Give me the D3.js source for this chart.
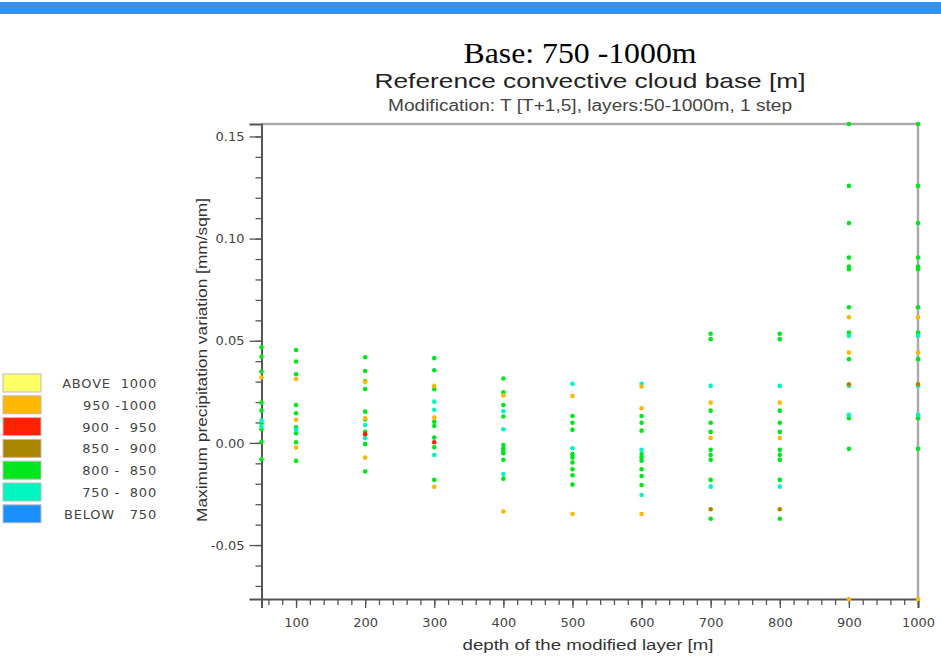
<!DOCTYPE html>
<html lang="en">
<head>
<meta charset="UTF-8">
<title>Base 750-1000m</title>
<script src="https://d3js.org/d3.v7.min.js"></script>
<style>
    body { margin: 0; background: #fff; }
    text { fill: #333; }
    .sans { font-family: "Liberation Sans", Arial, sans-serif; }
    .tick text { font-family: "DejaVu Sans", sans-serif; font-size: 13px; fill: #444; }
    .legend text { font-family: "DejaVu Sans", sans-serif; font-size: 13px; fill: #444; white-space: pre; letter-spacing: 0.8px; }
</style>
</head>
<body>
<script>
// depths of the modified layer (x) and tick labels
var xMajorTicks = [100, 200, 300, 400, 500, 600, 700, 800, 900, 1000];
var yMajorTicks = [-0.05, 0.00, 0.05, 0.10, 0.15];

// legend classes (cloud base height, m)
var classLabels = ["ABOVE  1000", "950 -1000", "900 -  950", "850 -  900", "800 -  850", "750 -  800", "BELOW   750"];
var classColors = ["#ffff66", "#ffb700", "#ff2200", "#a88600", "#00e61e", "#00f5c0", "#1a90ff"];

// points per class: [depth, max precipitation variation]
var pts800_850 = [
    [50, 0.0468], [50, 0.0422], [50, 0.0349], [50, 0.0197], [50, 0.0158], [50, 0.0096], [50, 0.0067], [50, 0.0006], [50, -0.0080],
    [100, 0.0455], [100, 0.0398], [100, 0.0336], [100, 0.0185], [100, 0.0145], [100, 0.0077], [100, 0.0047], [100, 0.0003], [100, -0.0088],
    [200, 0.0419], [200, 0.0352], [200, 0.0303], [200, 0.0264], [200, 0.0153], [200, 0.0115], [200, 0.0055], [200, -0.0006], [200, -0.0140],
    [300, 0.0415], [300, 0.0356], [300, 0.0263], [300, 0.0104], [300, 0.0083], [300, 0.0026], [300, -0.0021], [300, -0.0181],
    [400, 0.0315], [400, 0.0248], [400, 0.0185], [400, 0.0129], [400, -0.0010], [400, -0.0026], [400, -0.0038], [400, -0.0050], [400, -0.0083], [400, -0.0175],
    [500, 0.0132], [500, 0.0099], [500, 0.0064], [500, -0.0055], [500, -0.0072], [500, -0.0096], [500, -0.0129], [500, -0.0158], [500, -0.0204],
    [600, 0.0132], [600, 0.0099], [600, 0.0060], [600, -0.0054], [600, -0.0070], [600, -0.0087], [600, -0.0129], [600, -0.0162], [600, -0.0206],
    [700, 0.0534], [700, 0.0508], [700, 0.0158], [700, 0.0099], [700, 0.0054], [700, -0.0034], [700, -0.0059], [700, -0.0083], [700, -0.0181], [700, -0.0371],
    [800, 0.0534], [800, 0.0508], [800, 0.0158], [800, 0.0099], [800, 0.0054], [800, -0.0034], [800, -0.0059], [800, -0.0083], [800, -0.0181], [800, -0.0371],
    [900, 0.1561], [900, 0.1258], [900, 0.1076], [900, 0.0907], [900, 0.0863], [900, 0.0850], [900, 0.0664], [900, 0.0540], [900, 0.0410], [900, 0.0121], [900, -0.0029],
    [1000, 0.1561], [1000, 0.1258], [1000, 0.1076], [1000, 0.0907], [1000, 0.0863], [1000, 0.0850], [1000, 0.0664], [1000, 0.0540], [1000, 0.0410], [1000, 0.0121], [1000, -0.0029]
];
var pts750_800 = [
    [50, 0.0109], [50, 0.0080],
    [100, 0.0064],
    [200, 0.0088], [200, 0.0023],
    [300, 0.0202], [300, 0.0162], [300, -0.0059],
    [400, 0.0155], [400, 0.0067], [400, -0.0152],
    [500, 0.0289], [500, -0.0026],
    [600, 0.0289], [600, -0.0034], [600, -0.0255],
    [700, 0.0279], [700, -0.0214],
    [800, 0.0279], [800, -0.0214],
    [900, 0.0524], [900, 0.0279], [900, 0.0137],
    [1000, 0.0524], [1000, 0.0279], [1000, 0.0137]
];
var pts950_1000 = [
    [50, 0.0320],
    [100, 0.0313], [100, 0.0113], [100, -0.0023],
    [200, 0.0299], [200, 0.0121], [200, -0.0072],
    [300, 0.0279], [300, 0.0124], [300, -0.0215],
    [400, 0.0232], [400, -0.0336],
    [500, 0.0230], [500, -0.0348],
    [600, 0.0276], [600, 0.0170], [600, -0.0348],
    [700, 0.0197], [700, 0.0024],
    [800, 0.0197], [800, 0.0024],
    [900, 0.0615], [900, 0.0442], [900, -0.0764],
    [1000, 0.0615], [1000, 0.0442], [1000, -0.0764]
];
var pts850_900 = [
    [700, -0.0325], [800, -0.0325], [900, 0.0287], [1000, 0.0287]
];
var pts900_950 = [
    [200, 0.0043], [300, 0.0003]
];

var width = 941, height = 656;
var svg = d3.select("body").append("svg")
    .attr("width", width)
    .attr("height", height);

// blue band at the top
svg.append("rect").attr("x", 0).attr("y", 2).attr("width", width).attr("height", 12).attr("fill", "#3391ef");

// titles
svg.append("text")
    .attr("x", 580).attr("y", 63)
    .attr("text-anchor", "middle")
    .attr("textLength", 233).attr("lengthAdjust", "spacingAndGlyphs")
    .style("font-family", "'Liberation Serif', 'Times New Roman', serif")
    .style("font-size", "29px").style("fill", "#000")
    .text("Base: 750 -1000m");
svg.append("text").attr("class", "sans")
    .attr("x", 590).attr("y", 88)
    .attr("text-anchor", "middle")
    .attr("textLength", 431).attr("lengthAdjust", "spacingAndGlyphs")
    .style("font-size", "21px").style("fill", "#222")
    .text("Reference convective cloud base [m]");
svg.append("text").attr("class", "sans")
    .attr("x", 590).attr("y", 111)
    .attr("text-anchor", "middle")
    .attr("textLength", 404).attr("lengthAdjust", "spacingAndGlyphs")
    .style("font-size", "16px").style("fill", "#444")
    .text("Modification: T [T+1,5], layers:50-1000m, 1 step");

// scales
var x = d3.scaleLinear().domain([50, 1000]).range([261.5, 918]);
var y = d3.scaleLinear().domain([-0.0764, 0.1561]).range([599, 124]);

// frame (top and right)
var frame = svg.append("g").attr("stroke", "#aaa").attr("stroke-width", 2.5);
frame.append("line").attr("x1", x(50)).attr("x2", x(1000)).attr("y1", y(0.1561)).attr("y2", y(0.1561));
frame.append("line").attr("x1", x(1000)).attr("x2", x(1000)).attr("y1", y(0.1561)).attr("y2", y(-0.0764));

// y axis: minor then major
var yMinor = d3.range(-7, 16).map(function (d) { return d / 100; });
svg.append("g").attr("transform", "translate(" + x(50) + ",0)")
    .call(d3.axisLeft(y).tickValues(yMinor).tickSize(6).tickFormat(""))
    .call(function (g) { g.select(".domain").remove(); });
var yAxis = svg.append("g").attr("transform", "translate(" + x(50) + ",0)")
    .call(d3.axisLeft(y).tickValues(yMajorTicks).tickSize(12).tickPadding(5)
        .tickFormat(function (d) { return d.toFixed(2); }));

// x axis: minor then major
var xMinor = d3.range(60, 1001, 20);
svg.append("g").attr("transform", "translate(0," + y(-0.0764) + ")")
    .call(d3.axisBottom(x).tickValues(xMinor).tickSize(6).tickFormat(""))
    .call(function (g) { g.select(".domain").remove(); });
var xAxis = svg.append("g").attr("transform", "translate(0," + y(-0.0764) + ")")
    .call(d3.axisBottom(x).tickValues(xMajorTicks).tickSize(9).tickPadding(10)
        .tickFormat(function (d) { return String(d); }));

svg.selectAll(".tick line").attr("stroke", "#555").attr("stroke-width", 1.3);
svg.selectAll(".domain").attr("stroke", "#555").attr("stroke-width", 2);

// axis titles
svg.append("text").attr("class", "sans")
    .attr("transform", "translate(207,360) rotate(-90)")
    .attr("text-anchor", "middle")
    .attr("textLength", 324).attr("lengthAdjust", "spacingAndGlyphs")
    .style("font-size", "14px")
    .text("Maximum precipitation variation [mm/sqm]");
svg.append("text").attr("class", "sans")
    .attr("x", 588).attr("y", 650)
    .attr("text-anchor", "middle")
    .attr("textLength", 251).attr("lengthAdjust", "spacingAndGlyphs")
    .style("font-size", "14px")
    .text("depth of the modified layer [m]");

// points
var layers = [
    { data: pts800_850, color: classColors[4] },
    { data: pts750_800, color: classColors[5] },
    { data: pts950_1000, color: classColors[1] },
    { data: pts850_900, color: classColors[3] },
    { data: pts900_950, color: classColors[2] }
];
layers.forEach(function (layer) {
    svg.append("g").selectAll("circle")
        .data(layer.data)
        .enter().append("circle")
        .attr("cx", function (d) { return x(d[0]); })
        .attr("cy", function (d) { return y(d[1]); })
        .attr("r", 2.3)
        .attr("fill", layer.color);
});

// legend
var legend = svg.append("g").attr("class", "legend");
var rows = legend.selectAll("g")
    .data(classLabels)
    .enter().append("g")
    .attr("transform", function (d, i) { return "translate(0," + (374 + i * 21.8) + ")"; });
rows.append("rect")
    .attr("x", 3).attr("y", 0).attr("width", 38).attr("height", 18)
    .attr("fill", function (d, i) { return classColors[i]; })
    .attr("stroke", "#bbb").attr("stroke-width", 1);
rows.append("text")
    .attr("x", 157).attr("y", 14)
    .attr("text-anchor", "end")
    .text(function (d) { return d; });
</script>
</body>
</html>
